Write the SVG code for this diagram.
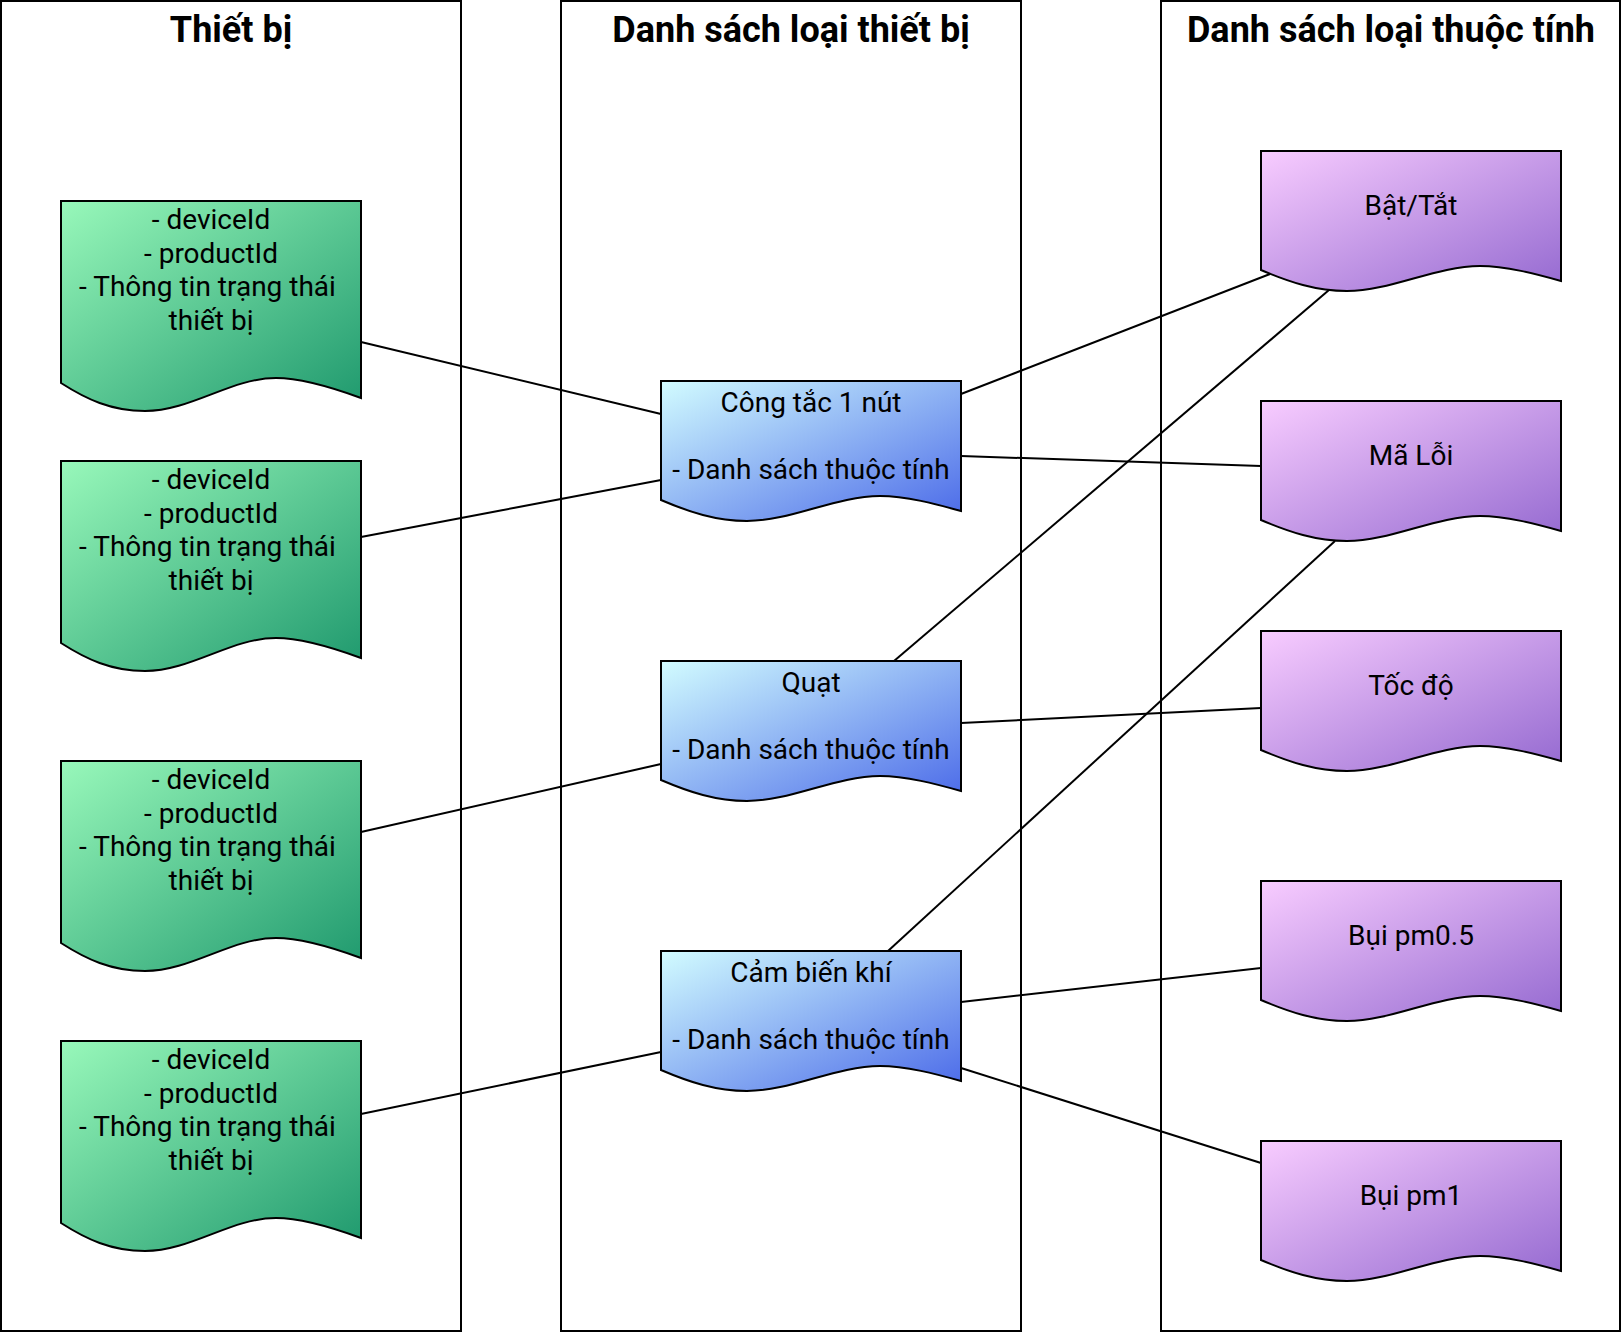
<svg xmlns="http://www.w3.org/2000/svg" xmlns:xlink="http://www.w3.org/1999/xlink" width="1624" height="1334" viewBox="0 0 1624 1334">
<style>
.lane{fill:#ffffff;stroke:#000000;stroke-width:2}
.title{font-family:Roboto,"Liberation Sans",sans-serif;font-weight:bold;font-size:36px;fill:#000000;text-anchor:middle}
.lbl{font-family:Roboto,"Liberation Sans",sans-serif;font-size:28px;fill:#000000;text-anchor:middle}
.doc{stroke:#000000;stroke-width:2;stroke-linejoin:miter}
.edge{stroke:#000000;stroke-width:2;fill:none}
</style>
<defs>
<linearGradient id="gGreen" x1="0" y1="0" x2="1" y2="1">
<stop offset="0" stop-color="#98F8BA"/>
<stop offset="1" stop-color="#1E986D"/>
</linearGradient>
<linearGradient id="gBlue" x1="0" y1="0" x2="1" y2="1">
<stop offset="0" stop-color="#D2FCFF"/>
<stop offset="1" stop-color="#4A69E8"/>
</linearGradient>
<linearGradient id="gPurple" x1="0" y1="0" x2="1" y2="1">
<stop offset="0" stop-color="#F8CCFF"/>
<stop offset="1" stop-color="#9469D0"/>
</linearGradient>
<path id="docTall" d="M0,0 H300 V197 C270,186 240,177 215,177 C170,177 130,210 84,210 C50,210 25,198 0,182 Z"/>
<path id="docShort" d="M0,0 H300 V130 C275,123 245,115 219,115 C175,115 130,140 86,140 C55,140 28,131 0,119 Z"/>
</defs>

<g id="lanes">
<g id="lane-thiet-bi">
<rect class="lane" x="1" y="1" width="460" height="1330"/>
<text class="title" x="231" y="42">Thiết bị</text>
</g>
<g id="lane-loai-thiet-bi">
<rect class="lane" x="561" y="1" width="460" height="1330"/>
<text class="title" x="791" y="42">Danh sách loại thiết bị</text>
</g>
<g id="lane-loai-thuoc-tinh">
<rect class="lane" x="1161" y="1" width="459" height="1330"/>
<text class="title" x="1391" y="42">Danh sách loại thuộc tính</text>
</g>
</g>

<g id="connectors">
<line class="edge" x1="361" y1="342" x2="661" y2="414"/>
<line class="edge" x1="361" y1="537" x2="661" y2="480"/>
<line class="edge" x1="361" y1="832" x2="661" y2="764"/>
<line class="edge" x1="361" y1="1114" x2="661" y2="1052"/>
<line class="edge" x1="961" y1="394" x2="1270" y2="274"/>
<line class="edge" x1="961" y1="456" x2="1261" y2="466"/>
<line class="edge" x1="894" y1="661" x2="1329" y2="290"/>
<line class="edge" x1="961" y1="723" x2="1261" y2="708"/>
<line class="edge" x1="888" y1="951" x2="1335" y2="541"/>
<line class="edge" x1="961" y1="1002" x2="1261" y2="968"/>
<line class="edge" x1="961" y1="1068" x2="1261" y2="1163"/>
</g>

<g id="device-1" transform="translate(61,201)">
<use xlink:href="#docTall" class="doc" fill="url(#gGreen)"/>
<text class="lbl" x="150" y="28">- deviceId</text>
<text class="lbl" x="150" y="61.6">- productId</text>
<text class="lbl" x="146.5" y="95.2">- Thông tin trạng thái</text>
<text class="lbl" x="150" y="128.8">thiết bị</text>
</g>
<g id="device-2" transform="translate(61,461)">
<use xlink:href="#docTall" class="doc" fill="url(#gGreen)"/>
<text class="lbl" x="150" y="28">- deviceId</text>
<text class="lbl" x="150" y="61.6">- productId</text>
<text class="lbl" x="146.5" y="95.2">- Thông tin trạng thái</text>
<text class="lbl" x="150" y="128.8">thiết bị</text>
</g>
<g id="device-3" transform="translate(61,761)">
<use xlink:href="#docTall" class="doc" fill="url(#gGreen)"/>
<text class="lbl" x="150" y="28">- deviceId</text>
<text class="lbl" x="150" y="61.6">- productId</text>
<text class="lbl" x="146.5" y="95.2">- Thông tin trạng thái</text>
<text class="lbl" x="150" y="128.8">thiết bị</text>
</g>
<g id="device-4" transform="translate(61,1041)">
<use xlink:href="#docTall" class="doc" fill="url(#gGreen)"/>
<text class="lbl" x="150" y="28">- deviceId</text>
<text class="lbl" x="150" y="61.6">- productId</text>
<text class="lbl" x="146.5" y="95.2">- Thông tin trạng thái</text>
<text class="lbl" x="150" y="128.8">thiết bị</text>
</g>

<g id="type-cong-tac" transform="translate(661,381)">
<use xlink:href="#docShort" class="doc" fill="url(#gBlue)"/>
<text class="lbl" x="150" y="31">Công tắc 1 nút</text>
<text class="lbl" x="150" y="98">- Danh sách thuộc tính</text>
</g>
<g id="type-quat" transform="translate(661,661)">
<use xlink:href="#docShort" class="doc" fill="url(#gBlue)"/>
<text class="lbl" x="150" y="31">Quạt</text>
<text class="lbl" x="150" y="98">- Danh sách thuộc tính</text>
</g>
<g id="type-cam-bien" transform="translate(661,951)">
<use xlink:href="#docShort" class="doc" fill="url(#gBlue)"/>
<text class="lbl" x="150" y="31">Cảm biến khí</text>
<text class="lbl" x="150" y="98">- Danh sách thuộc tính</text>
</g>

<g id="attr-bat-tat" transform="translate(1261,151)">
<use xlink:href="#docShort" class="doc" fill="url(#gPurple)"/>
<text class="lbl" x="150" y="64">Bật/Tắt</text>
</g>
<g id="attr-ma-loi" transform="translate(1261,401)">
<use xlink:href="#docShort" class="doc" fill="url(#gPurple)"/>
<text class="lbl" x="150" y="64">Mã Lỗi</text>
</g>
<g id="attr-toc-do" transform="translate(1261,631)">
<use xlink:href="#docShort" class="doc" fill="url(#gPurple)"/>
<text class="lbl" x="150" y="64">Tốc độ</text>
</g>
<g id="attr-pm05" transform="translate(1261,881)">
<use xlink:href="#docShort" class="doc" fill="url(#gPurple)"/>
<text class="lbl" x="150" y="64">Bụi pm0.5</text>
</g>
<g id="attr-pm1" transform="translate(1261,1141)">
<use xlink:href="#docShort" class="doc" fill="url(#gPurple)"/>
<text class="lbl" x="150" y="64">Bụi pm1</text>
</g>
</svg>
